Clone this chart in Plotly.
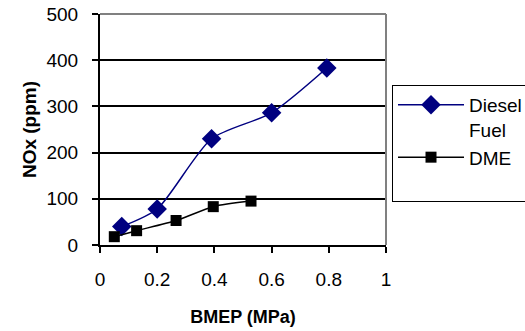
import plotly.graph_objects as go

# BMEP (MPa) vs NOx (ppm) for the two fuels
diesel_bmep = [0.076, 0.20, 0.39, 0.60, 0.793]
diesel_nox = [40, 78, 230, 286, 383]
dme_bmep = [0.05, 0.128, 0.266, 0.396, 0.528]
dme_nox = [18, 31, 53, 83, 95]

x_ticks = [0, 0.2, 0.4, 0.6, 0.8, 1]
x_tick_text = ["0", "0.2", "0.4", "0.6", "0.8", "1"]
y_ticks = [0, 100, 200, 300, 400, 500]

font_family = "Liberation Sans, Arial, sans-serif"

fig = go.Figure()
fig.add_trace(go.Scatter(
    x=diesel_bmep, y=diesel_nox, name="Diesel<br>Fuel", mode="lines+markers",
    line=dict(color="#000080", width=1.5, shape="spline", smoothing=0.7),
    marker=dict(symbol="diamond", size=15, color="#000080"),
))
fig.add_trace(go.Scatter(
    x=dme_bmep, y=dme_nox, name="DME<br> ", mode="lines+markers",
    line=dict(color="#000000", width=1.5, shape="spline", smoothing=0.7),
    marker=dict(symbol="square", size=11, color="#000000"),
))

fig.update_layout(
    width=525, height=331,
    margin=dict(l=100, r=139, t=14, b=86, autoexpand=False),
    paper_bgcolor="white", plot_bgcolor="white",
    font=dict(family=font_family, size=19, color="black"),
    showlegend=True,
    legend=dict(
        x=1.021, y=0.693, xanchor="left", yanchor="top",
        bordercolor="black", borderwidth=1, bgcolor="white",
        font=dict(size=19), tracegroupgap=15, itemwidth=66,
        valign="top", entrywidth=66,
    ),
    xaxis=dict(
        range=[0, 1], tickvals=x_ticks, ticktext=x_tick_text,
        showline=True, linecolor="black", linewidth=2,
        ticks="outside", ticklen=6, tickcolor="black", tickwidth=2,
        ticklabelstandoff=10, automargin=False,
        showgrid=False, zeroline=False,
        title=dict(text="<b>BMEP (MPa)</b>", font=dict(size=18), standoff=22),
    ),
    yaxis=dict(
        range=[0, 500], tickvals=y_ticks,
        showline=True, linecolor="black", linewidth=2,
        ticks="outside", ticklen=6, tickcolor="black", tickwidth=2,
        ticklabelstandoff=10, automargin=False,
        showgrid=True, gridcolor="black", gridwidth=1.5, zeroline=False,
        title=dict(text="<b>NOx (ppm)</b>", font=dict(size=19), standoff=5),
    ),
    shapes=[
        dict(type="line", xref="paper", yref="paper", x0=0, x1=1, y0=1, y1=1,
             line=dict(color="#808080", width=2)),
        dict(type="line", xref="paper", yref="paper", x0=1, x1=1, y0=0, y1=1,
             line=dict(color="#808080", width=2)),
    ],
)

fig.write_html("out.html")
